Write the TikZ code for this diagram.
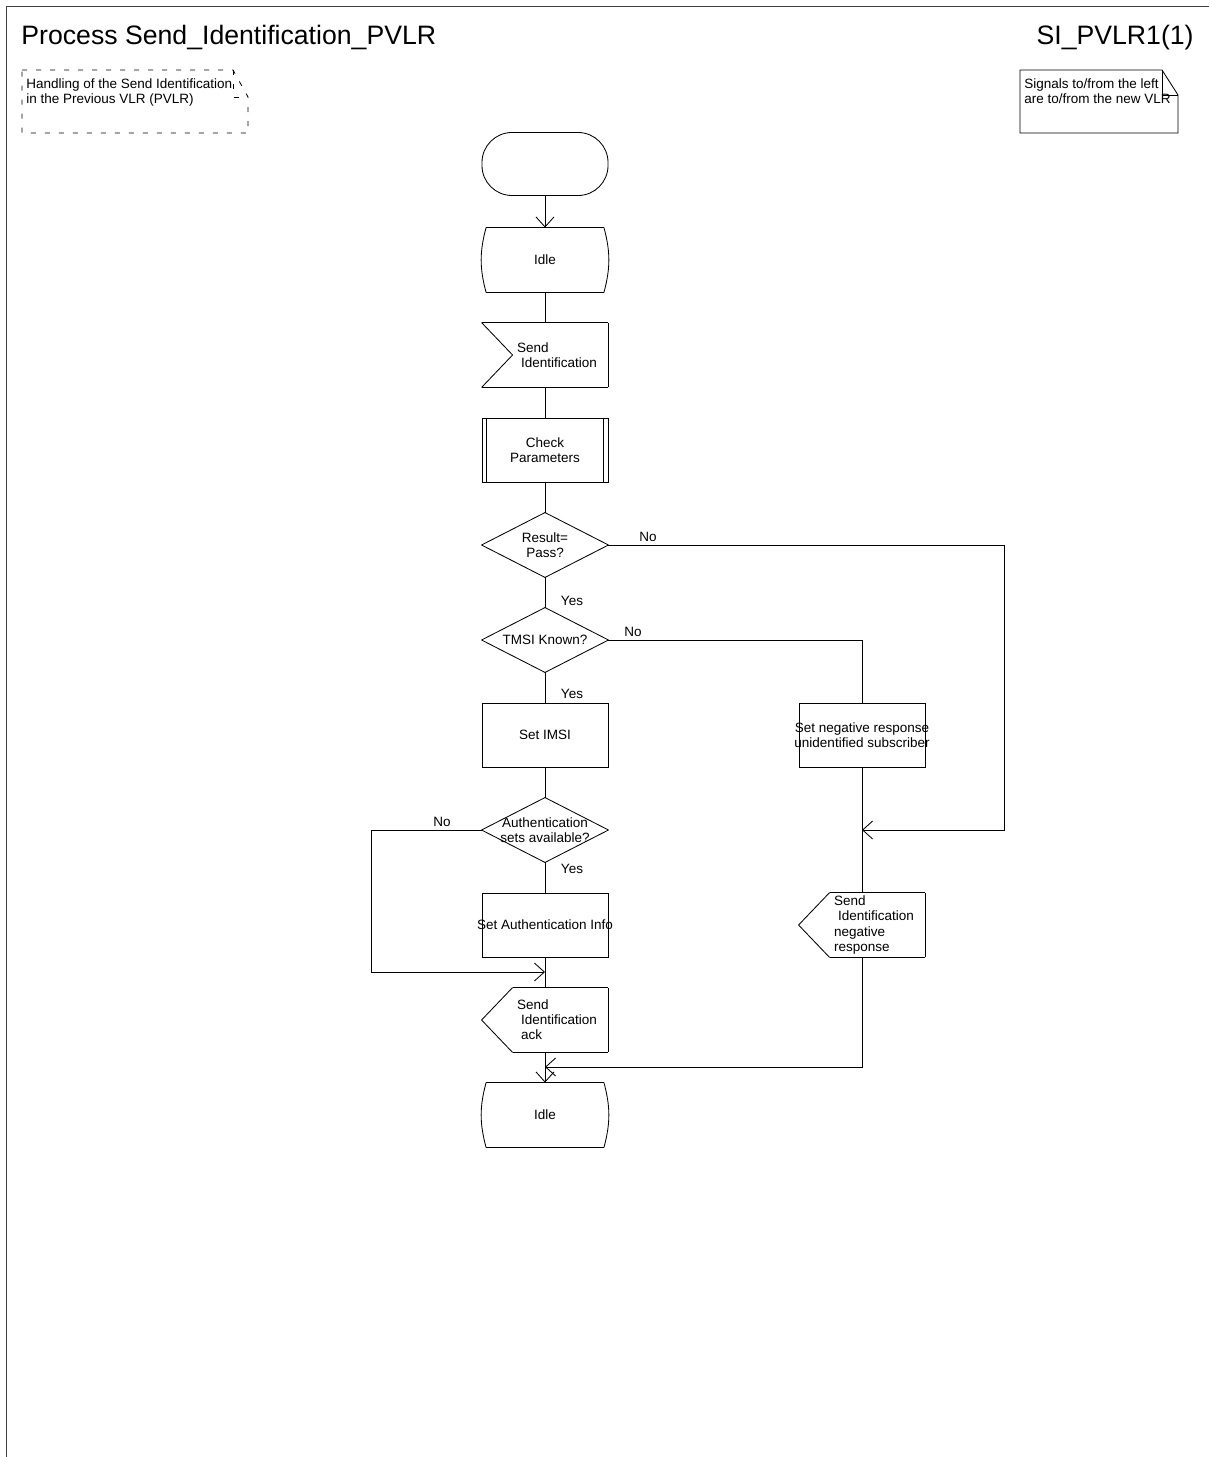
\documentclass[tikz,border=0pt]{standalone}
\usepackage{fontspec}
\setmainfont{Liberation Sans}
\usepackage{tikz}
\usetikzlibrary{arrows.meta, calc, positioning}
\hyphenpenalty=10000
\newcommand{\sdlfont}{\fontsize{9.6}{10.7}\selectfont}
\newcommand{\headfont}{\fontsize{18.95}{22}\selectfont}
\tikzstyle{sym}=[minimum width=3.15cm, minimum height=1.6cm, inner sep=0pt, align=center, font=\sdlfont]
\tikzstyle{terminal}=[sym, draw, rounded corners=0.75cm, minimum height=1.575cm]
\tikzstyle{task}=[sym, draw]
\tikzstyle{procsym}=[sym, draw, append after command={
	([xshift=0.125cm]\tikzlastnode.north west) edge ([xshift=0.125cm]\tikzlastnode.south west)
	([xshift=-0.125cm]\tikzlastnode.north east) edge ([xshift=-0.125cm]\tikzlastnode.south east)}]
\tikzstyle{statesym}=[sym, minimum width=2.925cm, append after command={
	(\tikzlastnode.north west) edge (\tikzlastnode.north east)
	(\tikzlastnode.south west) edge (\tikzlastnode.south east)
	(\tikzlastnode.north west) edge[bend right=15] (\tikzlastnode.south west)
	(\tikzlastnode.north east) edge[bend left=15] (\tikzlastnode.south east)}]
\tikzstyle{decision}=[sym, append after command={
	(\tikzlastnode.north) edge (\tikzlastnode.east)
	(\tikzlastnode.east) edge (\tikzlastnode.south)
	(\tikzlastnode.south) edge (\tikzlastnode.west)
	(\tikzlastnode.west) edge (\tikzlastnode.north)}]
\tikzstyle{inputsym}=[sym, text width=1.4cm, align=left, append after command={
	(\tikzlastnode.north west) edge (\tikzlastnode.north east)
	(\tikzlastnode.north east) edge (\tikzlastnode.south east)
	(\tikzlastnode.south east) edge (\tikzlastnode.south west)
	(\tikzlastnode.south west) edge ([xshift=0.775cm]\tikzlastnode.west)
	([xshift=0.775cm]\tikzlastnode.west) edge (\tikzlastnode.north west)}]
\tikzstyle{outputsym}=[sym, text width=1.4cm, align=left, append after command={
	([xshift=0.775cm]\tikzlastnode.north west) edge (\tikzlastnode.north east)
	(\tikzlastnode.north east) edge (\tikzlastnode.south east)
	(\tikzlastnode.south east) edge ([xshift=0.775cm]\tikzlastnode.south west)
	([xshift=0.775cm]\tikzlastnode.south west) edge (\tikzlastnode.west)
	(\tikzlastnode.west) edge ([xshift=0.775cm]\tikzlastnode.north west)}]
\tikzstyle{yesno}=[inner sep=0pt, font=\sdlfont]
\tikzstyle{notetext}=[anchor=north west, inner sep=0pt, align=left, font=\sdlfont]

\begin{document}
\begin{tikzpicture}[x=0.025cm, y=-0.025cm, line width=0.6pt, >={Straight Barb[length=0.25cm, width=0.45cm]}]
	\useasboundingbox (0,0) rectangle (1209,1457);
	\draw[line width=0.9pt, black!75] (6.5,1457) -- (6.5,6.5) -- (1209,6.5);

	\node[anchor=base west, inner sep=0pt, font=\headfont] (title) at (21,45) {Process Send\_Identification\_PVLR};
	\node[anchor=base east, inner sep=0pt, font=\headfont] (page) at (1194,45) {SI\_PVLR1(1)};

	% comment and note
	\node[style=notetext] (hdl) at (26,78) {Handling of the Send Identification\\in the Previous VLR (PVLR)};
	\draw[dash pattern=on 0.125cm off 0.225cm] (22,70) -- (233,70) -- (248,97) -- (248,133) -- (22,133) -- cycle;
	\draw[dash pattern=on 0.125cm off 0.225cm] (233,70) |- (248,97);
	\node[style=notetext] (sig) at (1024,78) {Signals to/from the left\\are to/from the new VLR};
	\draw (1020,70) -- (1162,70) -- (1178,95) -- (1178,133) -- (1020,133) -- cycle;
	\draw (1162,70) |- (1178,95);

	\node[style=terminal] (1) at (545,164) {};
	\node[style=statesym] (2) at (545,260) {Idle};
	\node[style=inputsym] (3) at (545,355) {Send\\\hspace*{0.1cm}Identification};
	\node[style=procsym] (4) at (545,450) {Check\\Parameters};
	\node[style=decision] (5) at (545,545) {Result=\\Pass?};
	\node[style=decision] (6) at (545,640) {TMSI Known?};
	\node[style=task] (7) at (545,735) {Set IMSI};
	\node[style=decision] (8) at (545,830) {Authentication\\sets available?};
	\node[style=task] (9) at (545,925) {\makebox[0pt]{Set Authentication Info}};
	\node[style=outputsym] (10) at (545,1020) {Send\\\hspace*{0.1cm}Identification\\\hspace*{0.1cm}ack};
	\node[style=statesym] (11) at (545,1115) {Idle};
	\node[style=task] (12) at (862,735) {\makebox[0pt]{Set negative response}\\\makebox[0pt]{unidentified subscriber}};
	\node[style=outputsym] (13) at (862,925) {Send\\\hspace*{0.1cm}Identification\\negative\\response};

	\node[style=yesno] (n1) at (648,537) {No};
	\node[style=yesno] (y1) at (572,601) {Yes};
	\node[style=yesno] (n2) at (633,632) {No};
	\node[style=yesno] (y2) at (572,694) {Yes};
	\node[style=yesno] (n3) at (442,822) {No};
	\node[style=yesno] (y3) at (572,869) {Yes};

	\coordinate (m1) at (12 |- 8);
	\coordinate (m2) at (545,972);
	\coordinate (m3) at (545,1067);

	\draw[->] (1) to (2);
	\draw (2) to (3);
	\draw (3) to (4);
	\draw (4) to (5);
	\draw (5) to (6);
	\draw (6) to (7);
	\draw (7) to (8);
	\draw (8) to (9);
	\draw (9) to (10);
	\draw[->] (10) to (11);
	\draw (12) to (13);
	\draw (6) -| (12);
	\draw[->] (5) -- ++(459,0) |- (m1);
	\draw[->] (8) -- ++(-174,0) |- (m2);
	\draw[->] (13) |- (m3);
\end{tikzpicture}
\end{document}
